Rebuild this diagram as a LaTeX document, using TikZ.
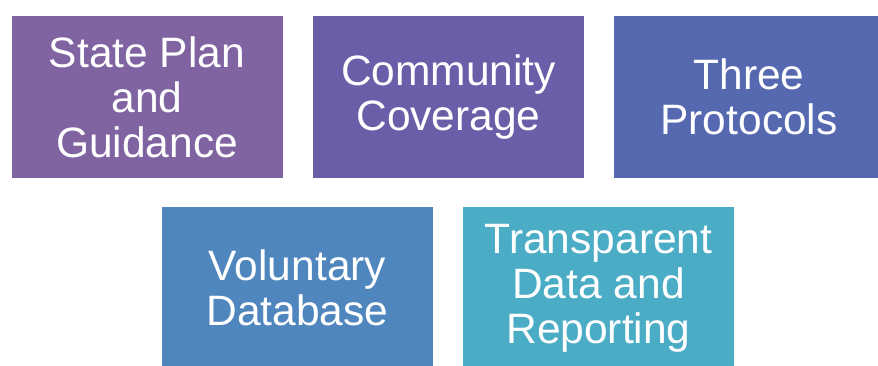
\documentclass[tikz,border=0pt]{standalone}
\usepackage{fontspec}
\setmainfont{Liberation Sans}
\usepackage{tikz}
\usetikzlibrary{positioning}
\definecolor{StepPurple}{RGB}{128,100,162}
\definecolor{StepViolet}{RGB}{106,94,168}
\definecolor{StepIndigo}{RGB}{86,104,176}
\definecolor{StepBlue}{RGB}{80,134,190}
\definecolor{StepAqua}{RGB}{75,172,198}
\tikzstyle{block} = [rectangle, inner sep=0, minimum width=271pt, minimum height=162pt,
                     align=center, text=white, font=\fontsize{42.5pt}{45pt}\selectfont]

\begin{document}
\begin{tikzpicture}[x=1pt, y=-1pt]
				\useasboundingbox (0, 0) rectangle (878, 365);
				\clip (0, 0) rectangle (878, 365);

				% top row
				\node (Plan) [block, fill=StepPurple] at (147, 97) {State Plan\\and\\Guidance};
				\node (Coverage) [block, fill=StepViolet] at (448.5, 97) {Community\\Coverage};
				\node (Protocols) [block, fill=StepIndigo] at (749, 97) {Three\\Protocols};

				% bottom row
				\node (Database) [block, fill=StepBlue] at (297.5, 288) {Voluntary\\Database};
				\node (Reporting) [block, fill=StepAqua] at (598.5, 288) {Transparent\\Data and\\Reporting};
\end{tikzpicture}
\end{document}
